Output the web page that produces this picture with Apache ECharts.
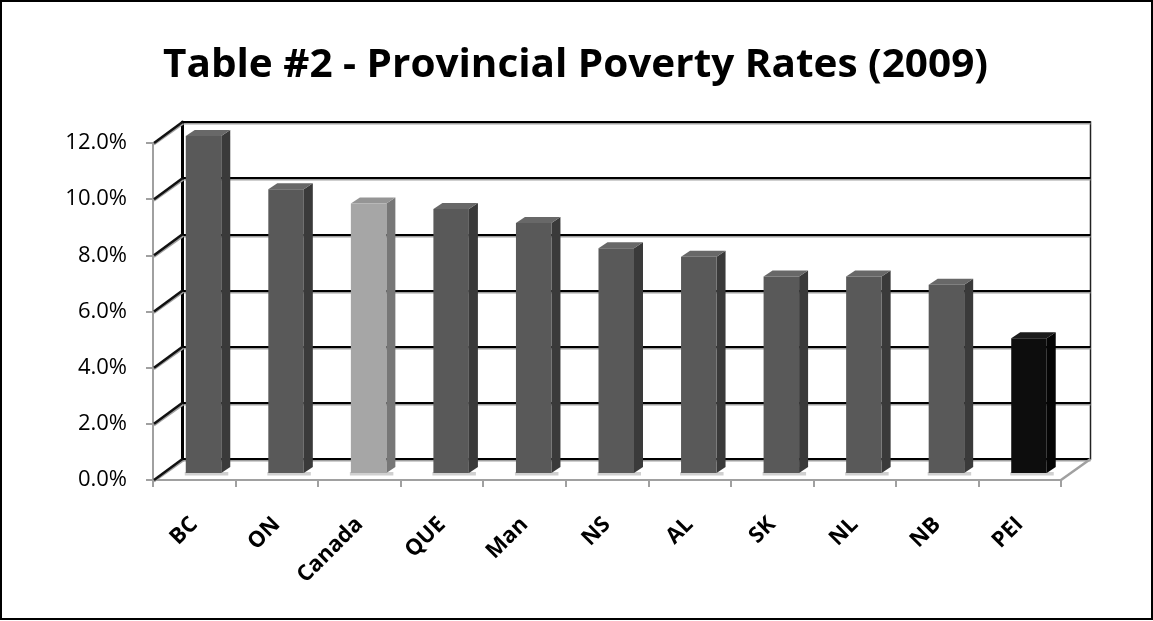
<!DOCTYPE html>
<html>
<head>
<meta charset="utf-8">
<script src="https://cdn.jsdelivr.net/npm/echarts@6/dist/echarts.min.js"></script>
<style>
  html, body { margin: 0; padding: 0; background: #fff; }
  #chart { width: 1153px; height: 621px; }
</style>
</head>
<body>
<div id="chart"></div>
<script>
// ---- data ----
const TITLE = 'Table #2 - Provincial Poverty Rates (2009)';
const categories = ['BC', 'ON', 'Canada', 'QUE', 'Man', 'NS', 'AL', 'SK', 'NL', 'NB', 'PEI'];
const povertyRate = [0.120, 0.101, 0.096, 0.094, 0.089, 0.080, 0.077, 0.070, 0.070, 0.067, 0.048];
const yMin = 0, yMax = 0.12, yStep = 0.02;

// ---- layout / style ----
const FRONT = { left: 153, top: 143, width: 908, height: 337 };
const DEPTH = { dx: 29.5, dy: -21 };
const BACK = { left: FRONT.left + DEPTH.dx, top: FRONT.top + DEPTH.dy, width: FRONT.width, height: FRONT.height };
const BAR = { offX: -8.5, w: 35.5, shiftY: -7, sideDx: 9, sideDy: -6 };
const FONT = '"Open Sans", "Liberation Sans", sans-serif';
const DEFAULT_BAR = { front: '#595959', side: '#3a3a3a', top: '#686868' };
const SPECIAL_BAR = {
  'Canada': { front: '#a6a6a6', side: '#777777', top: '#959595' },
  'PEI': { front: '#0d0d0d', side: '#050505', top: '#1c1c1c' }
};
function styleFor(name) { return SPECIAL_BAR[name] || DEFAULT_BAR; }

const tickValues = [];
for (let v = yMin; v <= yMax + 1e-9; v += yStep) tickValues.push(+v.toFixed(4));

// title stretch to match reference width
const TITLE_FONT = 'bold 39px ' + FONT;
const mctx = document.createElement('canvas').getContext('2d');
mctx.font = TITLE_FONT;
const titleScale = 825 / mctx.measureText(TITLE).width;

const chart = echarts.init(document.getElementById('chart'), null, { renderer: 'canvas' });

const option = {
  animation: false,
  backgroundColor: '#ffffff',
  graphic: [
    { type: 'rect', z: 100, shape: { x: 1, y: 1, width: 1151, height: 618 },
      style: { fill: 'none', stroke: '#000', lineWidth: 2 } },
    { type: 'text', x: 575.5, y: 66, scaleX: titleScale,
      style: { text: TITLE, font: TITLE_FONT, fill: '#000', align: 'center', verticalAlign: 'middle' } }
  ],
  grid: [
    Object.assign({ containLabel: false }, FRONT),
    Object.assign({ containLabel: false, show: true, borderColor: '#222', borderWidth: 1.5, backgroundColor: 'transparent' }, BACK)
  ],
  xAxis: [
    { type: 'category', gridIndex: 0, data: categories, boundaryGap: true,
      axisLine: { show: true, lineStyle: { color: '#a0a0a0', width: 2 } },
      axisTick: { show: true, interval: 0, length: 7, lineStyle: { color: '#a0a0a0', width: 2 } },
      axisLabel: { interval: 0, rotate: 45, margin: 41, color: '#000', fontFamily: FONT, fontWeight: 'bold', fontSize: 22 },
      splitLine: { show: false } },
    { type: 'category', gridIndex: 1, data: categories, boundaryGap: true,
      axisLine: { show: false }, axisTick: { show: false }, axisLabel: { show: false }, splitLine: { show: false } }
  ],
  yAxis: [
    { type: 'value', gridIndex: 0, min: yMin, max: yMax, interval: yStep,
      axisLine: { show: true, lineStyle: { color: '#a0a0a0', width: 2 } },
      axisTick: { show: true, length: 7, lineStyle: { color: '#a0a0a0', width: 2 } },
      axisLabel: { margin: 26, color: '#000', fontFamily: FONT, fontSize: 22,
        formatter: v => (v * 100).toFixed(1) + '%' },
      splitLine: { show: false } },
    { type: 'value', gridIndex: 1, min: yMin, max: yMax, interval: yStep,
      axisLine: { show: true, lineStyle: { color: '#000', width: 3 } },
      axisTick: { show: false }, axisLabel: { show: false },
      splitLine: { show: true, lineStyle: { color: '#000', width: 2, shadowColor: '#a0a0a0', shadowOffsetY: 1.5, shadowBlur: 0 } } }
  ],
  series: [
    { // left side wall: diagonal tick lines
      type: 'custom', xAxisIndex: 0, yAxisIndex: 0, z: 3, silent: true,
      data: tickValues.map(v => [0, v]),
      renderItem: function (params, api) {
        const p = api.coord([0, api.value(1)]);
        const half = api.size([1, 0])[0] / 2;
        const x = p[0] - half, y = p[1];
        return { type: 'group', children: [
          { type: 'line', shape: { x1: x + 1, y1: y + 1.5, x2: x + DEPTH.dx + 1, y2: y + DEPTH.dy + 1.5 }, style: { stroke: '#a0a0a0', lineWidth: 2 } },
          { type: 'line', shape: { x1: x + 1, y1: y, x2: x + DEPTH.dx, y2: y + DEPTH.dy }, style: { stroke: '#111', lineWidth: 2.5 } }
        ] };
      }
    },
    { // floor right edge
      type: 'custom', xAxisIndex: 0, yAxisIndex: 0, z: 3, silent: true,
      data: [[categories.length - 1, 0]],
      renderItem: function (params, api) {
        const p = api.coord([api.value(0), 0]);
        const half = api.size([1, 0])[0] / 2;
        const x = p[0] + half, y = p[1];
        return { type: 'line', shape: { x1: x, y1: y, x2: x + DEPTH.dx, y2: y + DEPTH.dy },
          style: { stroke: '#a0a0a0', lineWidth: 2.5 } };
      }
    },
    { // 3D bars
      type: 'custom', xAxisIndex: 0, yAxisIndex: 0, z: 4,
      data: categories.map((c, i) => [i, povertyRate[i]]),
      encode: { x: 0, y: 1 },
      renderItem: function (params, api) {
        const i = api.value(0), v = api.value(1);
        const base = api.coord([i, 0]);
        const top = api.coord([i, v]);
        const x0 = base[0] + BAR.offX, x1 = x0 + BAR.w;
        const yb = base[1] + BAR.shiftY, yt = top[1] + BAR.shiftY;
        const dx = BAR.sideDx, dy = BAR.sideDy;
        const st = styleFor(categories[i]);
        return { type: 'group', children: [
          { type: 'rect', shape: { x: x0 - 1, y: yb - 1, width: BAR.w + dx - 1, height: 3.5 }, style: { fill: '#d0d0d0' } },
          { type: 'polygon', shape: { points: [[x1, yt], [x1 + dx, yt + dy], [x1 + dx, yb + dy], [x1, yb]] }, style: { fill: st.side } },
          { type: 'polygon', shape: { points: [[x0, yt], [x0 + dx, yt + dy], [x1 + dx, yt + dy], [x1, yt]] }, style: { fill: st.top } },
          { type: 'rect', shape: { x: x0, y: yt, width: BAR.w, height: yb - yt }, style: { fill: st.front } }
        ] };
      }
    }
  ]
};
chart.setOption(option);
</script>
</body>
</html>
